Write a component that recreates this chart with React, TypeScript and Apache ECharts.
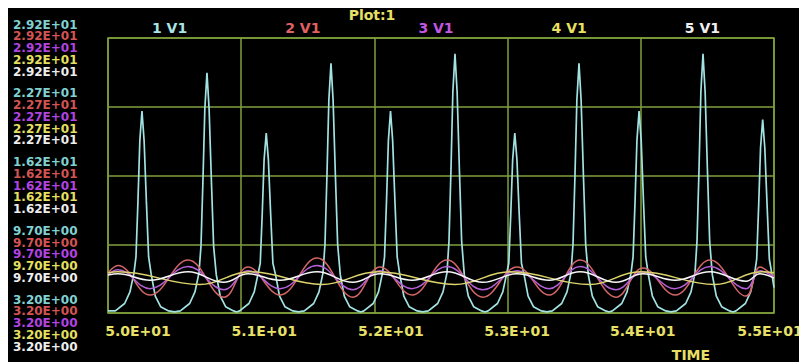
import React, { useEffect, useRef } from "react";
import * as echarts from "echarts";

// ---- data ----
const seriesNames = ["1 V1", "2 V1", "3 V1", "4 V1", "5 V1"];
const timeRange = [50, 55];
const timeStep = 1;
const voltRange = [3.2, 29.2];
const voltStep = 6.5;

// trace 1 (cyan): spiky waveform
const cyanTime = [
  50.0, 50.055, 50.125, 50.165, 50.195, 50.21, 50.225, 50.239, 50.255, 50.271, 50.288, 50.305, 50.325, 50.355, 50.395, 50.455,
  50.5, 50.543, 50.613, 50.653, 50.683, 50.698, 50.713, 50.727, 50.743, 50.759, 50.776, 50.793, 50.813, 50.843, 50.883, 50.943,
  50.965, 50.988, 51.058, 51.098, 51.128, 51.143, 51.158, 51.172, 51.188, 51.204, 51.221, 51.238, 51.258, 51.288, 51.328, 51.388,
  51.431, 51.474, 51.544, 51.584, 51.614, 51.629, 51.644, 51.658, 51.674, 51.69, 51.707, 51.724, 51.744, 51.774, 51.814, 51.874,
  51.898, 51.921, 51.991, 52.031, 52.061, 52.076, 52.091, 52.105, 52.121, 52.137, 52.154, 52.171, 52.191, 52.221, 52.261, 52.321,
  52.363, 52.405, 52.475, 52.515, 52.545, 52.56, 52.575, 52.589, 52.605, 52.621, 52.638, 52.655, 52.675, 52.705, 52.745, 52.805,
  52.83, 52.854, 52.924, 52.964, 52.994, 53.009, 53.024, 53.038, 53.054, 53.07, 53.087, 53.104, 53.124, 53.154, 53.194, 53.254,
  53.295, 53.336, 53.406, 53.446, 53.476, 53.491, 53.506, 53.52, 53.536, 53.552, 53.569, 53.586, 53.606, 53.636, 53.676, 53.736,
  53.762, 53.787, 53.857, 53.897, 53.927, 53.942, 53.957, 53.971, 53.987, 54.003, 54.02, 54.037, 54.057, 54.087, 54.127, 54.187,
  54.227, 54.267, 54.337, 54.377, 54.407, 54.422, 54.437, 54.451, 54.467, 54.483, 54.5, 54.517, 54.537, 54.567, 54.607, 54.667,
  54.691, 54.715, 54.785, 54.825, 54.855, 54.87, 54.885, 54.899, 54.915, 54.931, 54.948, 54.965, 54.985, 55.0,
];
const cyanVolts = [
  3.4, 3.4, 4.1, 5.2, 7.0, 8.5, 13.8, 19.5, 22.3, 19.5, 13.8, 8.5, 6.8, 4.8, 3.8, 3.4,
  3.3, 3.4, 4.1, 5.2, 7.0, 9.5, 15.8, 22.5, 25.9, 22.5, 15.8, 9.5, 6.8, 4.8, 3.8, 3.4,
  3.3, 3.4, 4.1, 5.2, 7.0, 7.9, 12.6, 17.7, 20.2, 17.7, 12.6, 7.9, 6.8, 4.8, 3.8, 3.4,
  3.3, 3.4, 4.1, 5.2, 7.0, 9.7, 16.3, 23.3, 26.8, 23.3, 16.3, 9.7, 6.8, 4.8, 3.8, 3.4,
  3.3, 3.4, 4.1, 5.2, 7.0, 8.5, 13.8, 19.5, 22.3, 19.5, 13.8, 8.5, 6.8, 4.8, 3.8, 3.4,
  3.3, 3.4, 4.1, 5.2, 7.0, 10.0, 16.8, 24.1, 27.7, 24.1, 16.8, 10.0, 6.8, 4.8, 3.8, 3.4,
  3.3, 3.4, 4.1, 5.2, 7.0, 7.9, 12.6, 17.7, 20.2, 17.7, 12.6, 7.9, 6.8, 4.8, 3.8, 3.4,
  3.3, 3.4, 4.1, 5.2, 7.0, 9.7, 16.3, 23.3, 26.8, 23.3, 16.3, 9.7, 6.8, 4.8, 3.8, 3.4,
  3.3, 3.4, 4.1, 5.2, 7.0, 8.5, 13.8, 19.5, 22.3, 19.5, 13.8, 8.5, 6.8, 4.8, 3.8, 3.4,
  3.3, 3.4, 4.1, 5.2, 7.0, 10.0, 16.8, 24.1, 27.7, 24.1, 16.8, 10.0, 6.8, 4.8, 3.8, 3.4,
  3.3, 3.4, 4.1, 5.2, 7.0, 8.3, 13.4, 18.8, 21.5, 18.8, 13.4, 8.3, 6.8, 5.6,
];

// traces 2, 3, 5 (red, magenta, white): shared turning-point times
const waveTime = [
  50.0, 50.075, 50.315, 50.601, 50.871, 51.051, 51.291, 51.569, 51.839, 52.042, 52.282, 52.545,
  52.815, 53.071, 53.311, 53.544, 53.814, 54.017, 54.257, 54.52, 54.79, 54.895, 55.0,
];
const redVolts = [7.0, 7.7, 4.9, 8.2, 4.7, 7.55, 4.9, 8.4, 4.7, 7.55, 4.9, 8.2, 4.7, 7.55, 4.9, 8.2, 4.7, 7.45, 4.9, 8.2, 4.8, 7.55, 6.6];
const magentaVolts = [6.8, 7.3, 5.5, 7.6, 5.4, 7.2, 5.5, 7.7, 5.4, 7.2, 5.5, 7.6, 5.4, 7.2, 5.5, 7.6, 5.4, 7.1, 5.5, 7.6, 5.5, 7.2, 6.6];
const whiteVolts = [6.8, 6.9, 6.3, 7.1, 6.1, 6.9, 6.3, 7.1, 6.1, 6.9, 6.3, 7.1, 6.1, 6.9, 6.3, 7.1, 6.1, 6.9, 6.3, 7.1, 6.2, 6.9, 6.5];

// trace 4 (yellow)
const yellowTime = [50.0, 50.075, 50.691, 51.066, 51.607, 52.027, 52.605, 53.018, 53.619, 53.994, 54.557, 54.91, 55.0];
const yellowVolts = [7.0, 7.1, 5.9, 7.1, 5.9, 7.1, 5.9, 7.1, 5.9, 7.1, 5.9, 7.1, 7.0];

// ---- styles ----
const traceColors = ["#a2e2e2", "#d46666", "#b660d8", "#dcd46c", "#f6f6f6"];
const labelColors = ["#80d2d2", "#d45454", "#b244e2", "#e6e060", "#eeeeee"];
const legendColors = ["#a8e4e4", "#e06262", "#c456e0", "#e8e060", "#f0f0f0"];
const gridColor = "#7fa03c";
const yellowText = "#e8e066";
const FONT = "DejaVu Sans";

const fmtExp = (v: number, d: number) => {
  const [m, e] = v.toExponential(d).split("e");
  const n = parseInt(e, 10);
  return `${m}E${n < 0 ? "-" : "+"}${String(Math.abs(n)).padStart(2, "0")}`;
};

const pairs = (t: number[], v: number[]) => t.map((x, i) => [x, v[i]]);

export default function App() {
  const ref = useRef<HTMLDivElement>(null);
  useEffect(() => {
    if (!ref.current) return;
    const chart = echarts.init(ref.current, undefined, { renderer: "svg" });
    const yBase = { fontFamily: FONT, fontWeight: "bold", fontSize: 12, lineHeight: 11.75 };
    const xBase = { fontFamily: FONT, fontWeight: "bold", fontSize: 14, color: yellowText };
    const xShift = [60, 46, 33, 19, 4, -8];
    const xRich: any = {};
    xShift.forEach((s, i) => {
      xRich["x" + i] = { ...xBase, padding: s >= 0 ? [0, 0, 0, s] : [0, -s, 0, 0] };
    });
    const keys = ["c", "r", "m", "y", "w"];
    const yRich: any = {};
    keys.forEach((k, i) => (yRich[k] = { ...yBase, color: labelColors[i] }));

    const data = [
      pairs(cyanTime, cyanVolts),
      pairs(waveTime, redVolts),
      pairs(waveTime, magentaVolts),
      pairs(yellowTime, yellowVolts),
      pairs(waveTime, whiteVolts),
    ];

    chart.setOption({
      animation: false,
      backgroundColor: "#000000",
      title: {
        text: "Plot:1",
        left: 359,
        top: -5,
        textAlign: "center",
        textStyle: { color: yellowText, fontFamily: FONT, fontWeight: "bold", fontSize: 14 },
      },
      legend: {
        data: seriesNames.map((n, i) => ({ name: n, textStyle: { color: legendColors[i] } })),
        icon: "none",
        itemWidth: 0,
        itemHeight: 10,
        itemGap: 93,
        left: 134,
        top: 8,
        selectedMode: false,
        textStyle: { fontFamily: FONT, fontWeight: "bold", fontSize: 14 },
      },
      grid: {
        left: 100,
        top: 30,
        right: 33,
        bottom: 49,
        show: true,
        borderColor: gridColor,
        borderWidth: 1.5,
        containLabel: false,
        outerBoundsMode: "none",
      },
      xAxis: {
        type: "value",
        min: timeRange[0],
        max: timeRange[1],
        interval: timeStep,
        axisLine: { show: false },
        axisTick: { show: false },
        splitLine: { show: true, lineStyle: { color: gridColor, width: 1.5 } },
        axisLabel: {
          margin: 11,
          showMinLabel: true,
          showMaxLabel: true,
          formatter: (v: number, i: number) => `{x${i}|${fmtExp(v, 1)}}`,
          rich: xRich,
        },
        name: "TIME",
        nameLocation: "middle",
        nameGap: 35,
        nameTextStyle: { ...xBase, padding: [0, 0, 0, 500] },
      },
      yAxis: {
        type: "value",
        min: voltRange[0],
        max: voltRange[1],
        interval: voltStep,
        axisLine: { show: false },
        axisTick: { show: false },
        splitLine: { show: true, lineStyle: { color: gridColor, width: 1.5 } },
        axisLabel: {
          align: "left",
          margin: 95,
          padding: [20, 0, 0, 0],
          showMinLabel: true,
          showMaxLabel: true,
          formatter: (v: number) => {
            const s = fmtExp(v, 2);
            return keys.map((k) => `{${k}|${s}}`).join("\n");
          },
          rich: yRich,
        },
      },
      series: seriesNames.map((n, i) => ({
        name: n,
        type: "line",
        data: data[i],
        symbol: "none",
        showSymbol: false,
        smooth: i === 0 ? false : 0.4,
        color: traceColors[i],
        lineStyle: { color: traceColors[i], width: i === 0 ? 1.7 : 1.5 },
        emphasis: { disabled: true },
        z: 2 + i,
      })),
    });
    return () => chart.dispose();
  }, []);
  return <div ref={ref} style={{ width: 799, height: 354, background: "#000" }} />;
}
